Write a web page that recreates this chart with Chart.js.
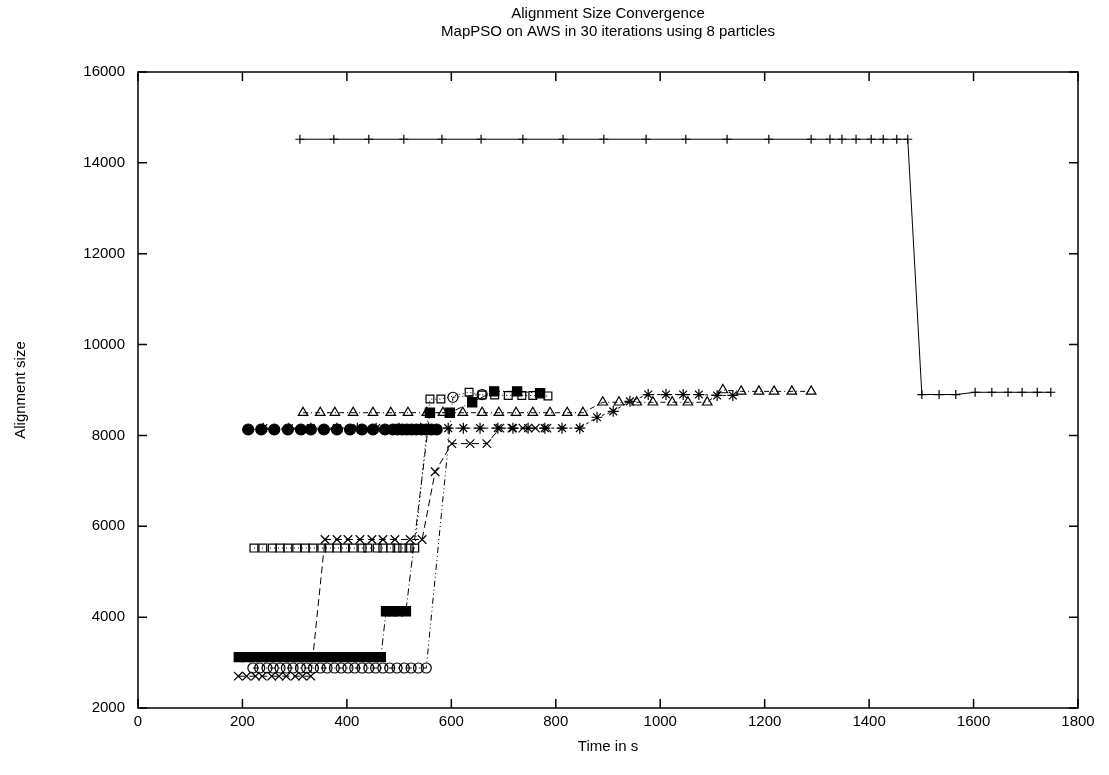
<!DOCTYPE html>
<html>
<head>
<meta charset="utf-8">
<title>Alignment Size Convergence</title>
<script src="https://cdn.jsdelivr.net/npm/chart.js@4.4.1/dist/chart.umd.min.js"></script>
<style>
  html, body { margin: 0; padding: 0; background: #fff; }
  #wrap { width: 1109px; height: 775px; }
</style>
</head>
<body>
<div id="wrap"><canvas id="conv" width="1109" height="775"></canvas></div>
<script>
const FONT = "'Liberation Sans', Arial, sans-serif";

const xTicks = [0, 200, 400, 600, 800, 1000, 1200, 1400, 1600, 1800];
const yTicks = [2000, 4000, 6000, 8000, 10000, 12000, 14000, 16000];

// particle 1 (+)
const plusTime = [310, 375, 442, 509, 582, 657, 737, 814, 892, 973, 1049, 1128, 1208, 1289, 1325,
                  1348, 1375, 1404, 1427, 1453, 1474, 1501, 1534, 1566, 1603, 1635, 1666, 1693, 1722, 1748];
const plusSize = [14520, 14520, 14520, 14520, 14520, 14520, 14520, 14520, 14520, 14520, 14520, 14520, 14520, 14520, 14520,
                  14520, 14520, 14520, 14520, 14520, 14520, 8900, 8900, 8900, 8950, 8950, 8950, 8950, 8950, 8950];

// particle 2 (x)
const crossTime = [192, 208, 225, 238, 256, 270, 284, 301, 315, 331, 358, 381, 402, 425, 448, 469, 492, 521, 544,
                   569, 601, 636, 668, 693, 716, 737, 761, 783];
const crossSize = [2700, 2700, 2700, 2700, 2700, 2700, 2700, 2700, 2700, 2700, 5710, 5710, 5710, 5710, 5710, 5710, 5710, 5710, 5710,
                   7200, 7820, 7820, 7820, 8160, 8160, 8160, 8160, 8160];

// particle 3 (*)
const starTime = [240, 289, 331, 381, 420, 456, 500, 541, 594, 623, 655, 689, 718, 747, 779, 812, 846,
                  879, 910, 942, 977, 1011, 1044, 1074, 1109, 1139];
const starSize = [8160, 8160, 8160, 8160, 8160, 8160, 8160, 8160, 8160, 8160, 8160, 8160, 8160, 8160, 8160, 8160, 8160,
                  8400, 8530, 8750, 8900, 8900, 8900, 8900, 8880, 8880];

// particle 4 (open square)
const sqTime = [222, 239, 257, 272, 287, 304, 320, 335, 352, 366, 381, 396, 412, 429, 440, 458, 469, 484, 496, 507, 519, 530,
                559, 580, 634, 659, 683, 709, 735, 756, 785];
const sqSize = [5520, 5520, 5520, 5520, 5520, 5520, 5520, 5520, 5520, 5520, 5520, 5520, 5520, 5520, 5520, 5520, 5520, 5520, 5520, 5520, 5520, 5520,
                8800, 8800, 8950, 8890, 8890, 8880, 8880, 8880, 8870];

// particle 5 (filled square)
const fsqTime = [193, 207, 222, 236, 251, 265, 280, 294, 308, 323, 337, 352, 366, 381, 395, 409, 424, 438, 452, 465,
                 475, 487, 498, 513, 559, 597, 640, 682, 726, 770];
const fsqSize = [3120, 3120, 3120, 3120, 3120, 3120, 3120, 3120, 3120, 3120, 3120, 3120, 3120, 3120, 3120, 3120, 3120, 3120, 3120, 3120,
                 4130, 4130, 4130, 4130, 8500, 8500, 8730, 8970, 8970, 8930];

// particle 6 (open circle)
const circTime = [220, 233, 247, 259, 272, 284, 297, 311, 323, 336, 349, 362, 376, 389, 402, 415, 429, 442, 455, 469, 482, 496,
                  510, 523, 537, 552, 603, 659];
const circSize = [2880, 2880, 2880, 2880, 2880, 2880, 2880, 2880, 2880, 2880, 2880, 2880, 2880, 2880, 2880, 2880, 2880, 2880, 2880, 2880, 2880, 2880,
                  2880, 2880, 2880, 2880, 8840, 8900];

// particle 7 (filled circle)
const dotTime = [211, 236, 261, 287, 312, 331, 356, 381, 406, 429, 450, 473, 488, 497, 506, 515, 524, 533, 543, 552, 562, 572];
const dotSize = [8130, 8130, 8130, 8130, 8130, 8130, 8130, 8130, 8130, 8130, 8130, 8130, 8130, 8130, 8130, 8130, 8130, 8130, 8130, 8130, 8130, 8130];

// particle 8 (open triangle)
const triTime = [316, 349, 377, 412, 450, 484, 517, 553, 584, 622, 659, 691, 724, 756, 789, 822, 852,
                 890, 921, 955, 986, 1023, 1053, 1090, 1120, 1155, 1189, 1218, 1252, 1289];
const triSize = [8500, 8500, 8500, 8500, 8500, 8500, 8500, 8500, 8500, 8500, 8500, 8500, 8500, 8500, 8500, 8500, 8500,
                 8730, 8730, 8730, 8730, 8730, 8730, 8730, 9000, 8970, 8970, 8970, 8970, 8970];

const TICK = 9;

function particle(time, size, style, radius, dash, filled, order) {
  return {
    data: time.map((t, i) => ({ x: t, y: size[i] })),
    showLine: true,
    borderColor: '#000',
    borderWidth: 1,
    borderDash: dash,
    pointStyle: style,
    pointRadius: radius,
    pointBorderColor: '#000',
    pointBorderWidth: 1.2,
    pointBackgroundColor: filled ? '#000' : 'rgba(0,0,0,0)',
    tension: 0,
    order
  };
}

// gnuplot style border with inward mirrored ticks
const frame = {
  id: 'frame',
  afterDraw(chart) {
    const { ctx, chartArea: a, scales: { x, y } } = chart;
    ctx.save();
    ctx.strokeStyle = '#000';
    ctx.lineWidth = 1.5;
    ctx.beginPath();
    xTicks.forEach(v => {
      const px = x.getPixelForValue(v);
      ctx.moveTo(px, a.bottom); ctx.lineTo(px, a.bottom - TICK);
      ctx.moveTo(px, a.top);    ctx.lineTo(px, a.top + TICK);
    });
    yTicks.forEach(v => {
      const py = y.getPixelForValue(v);
      ctx.moveTo(a.left, py);  ctx.lineTo(a.left + TICK, py);
      ctx.moveTo(a.right, py); ctx.lineTo(a.right - TICK, py);
    });
    ctx.stroke();
    ctx.strokeRect(a.left, a.top, a.right - a.left, a.bottom - a.top);
    ctx.restore();
  }
};

new Chart(document.getElementById('conv'), {
  type: 'scatter',
  data: {
    datasets: [
      particle(plusTime,  plusSize,  'cross',    4.5, [],              false, 8),
      particle(crossTime, crossSize, 'crossRot', 6,   [7, 4],          false, 7),
      particle(starTime,  starSize,  'star',     5.5, [3, 3],          false, 6),
      particle(sqTime,    sqSize,    'rect',     5.5, [1, 3],          false, 5),
      particle(fsqTime,   fsqSize,   'rect',     6.5, [7, 3, 1, 3],    true,  4),
      particle(circTime,  circSize,  'circle',   5,   [6, 3, 1, 3, 1, 3], false, 3),
      particle(dotTime,   dotSize,   'circle',   5.5, [4, 2, 1, 2],    true,  2),
      particle(triTime,   triSize,   'triangle', 5.5, [5, 3, 1, 3],    false, 1)
    ]
  },
  options: {
    responsive: false,
    animation: false,
    events: [],
    layout: { padding: { left: 0, right: 31, top: 0, bottom: 0 } },
    plugins: {
      legend: { display: false },
      tooltip: { enabled: false },
      title: {
        display: true,
        fullSize: false,
        text: ['Alignment Size Convergence', 'MapPSO on AWS in 30 iterations using 8 particles'],
        color: '#000',
        font: { family: FONT, size: 15, weight: 'normal', lineHeight: 1.2 },
        padding: { top: 5, bottom: 31 }
      }
    },
    scales: {
      x: {
        type: 'linear',
        min: 0, max: 1800,
        afterFit: s => { s.height = 67; },
        afterBuildTicks: s => { s.ticks = xTicks.map(v => ({ value: v })); },
        grid: { display: false, drawTicks: false },
        border: { display: false },
        ticks: { color: '#000', font: { family: FONT, size: 15 }, padding: 5, maxRotation: 0,
                 callback: v => String(v) },
        title: { display: true, text: 'Time in s', color: '#000',
                 font: { family: FONT, size: 15 }, padding: { top: 0, bottom: 19 } }
      },
      y: {
        type: 'linear',
        min: 2000, max: 16000,
        afterFit: s => { s.width = 138; },
        afterBuildTicks: s => { s.ticks = yTicks.map(v => ({ value: v })); },
        grid: { display: false, drawTicks: false },
        border: { display: false },
        ticks: { color: '#000', font: { family: FONT, size: 15 }, padding: 13,
                 callback: v => String(v) },
        title: { display: true, text: 'Alignment size', color: '#000',
                 font: { family: FONT, size: 15 }, padding: { top: 12, bottom: 0 } }
      }
    }
  },
  plugins: [frame]
});
</script>
</body>
</html>
